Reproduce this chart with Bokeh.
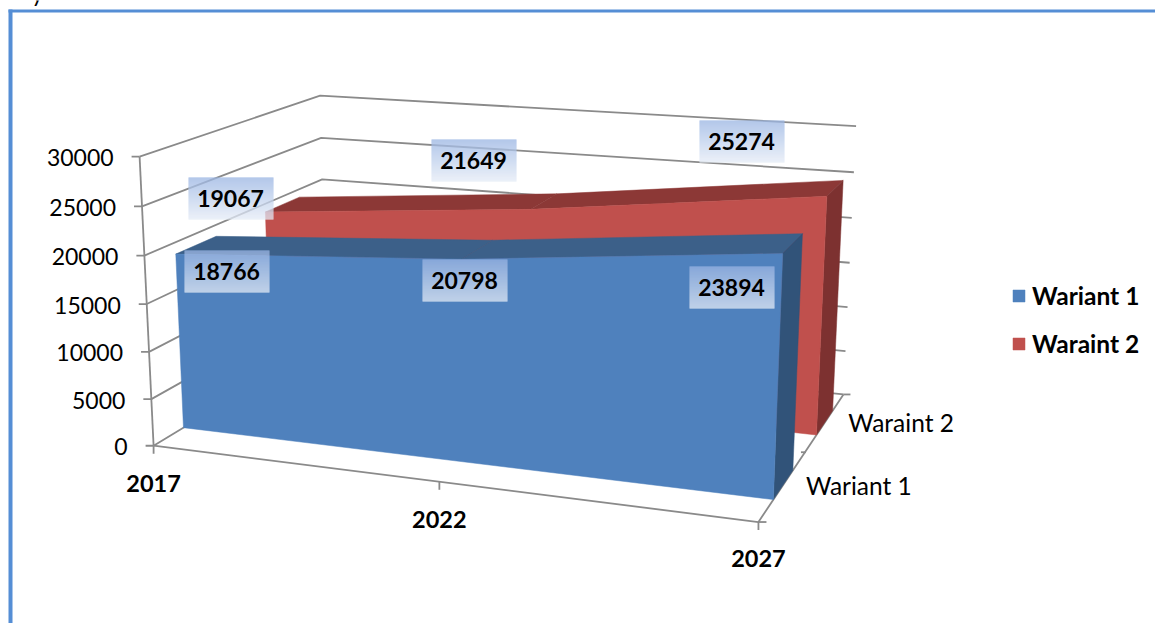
import numpy as np
from bokeh.embed import file_html
from bokeh.models import Legend, LegendItem, Range1d
from bokeh.plotting import figure
from bokeh.resources import INLINE
from bokeh.core.properties import value

# Chart values
years = ["2017", "2022", "2027"]
wariant_1 = [18766, 20798, 23894]
wariant_2 = [19067, 21649, 25274]
series_names = ["Wariant 1", "Waraint 2"]
value_ticks = [0, 5000, 10000, 15000, 20000, 25000, 30000]
VALUE_MAX = 30000

FONT = "Lato"
GREY = "#8a8a8a"
FRAME = "#558ed5"
BLUE = ("#4f81bd", "#3c6089", "#315379")
RED = ("#c0504d", "#8c3836", "#7d3130")
LINE_W = 1.8

# Camera: where corners of the 3D box (year, value, depth; all 0..1) land on the page
CAMERA = [
    ((0, 0, 0), (153, 445)), ((1, 0, 0), (757, 521)), ((0.5, 0, 0), (438, 481)),
    ((0, 1, 0), (139, 156)), ((0, 1, 1), (320, 95)), ((1, 1, 1), (856, 126)),
    ((1, 0, 1), (842, 394)), ((1, 0, 0.5), (807, 452)),
    ((0, 5 / 6, 1), (320, 137)), ((1, 5 / 6, 1), (853, 172)),
    ((0, 2 / 3, 1), (322, 179)), ((1, 2 / 3, 1), (851, 217)),
    ((0, 1 / 6, 0), (151, 399)), ((0, 1 / 3, 0), (149, 352)),
]


def fit_camera(pairs):
    rows = []
    for (X, Y, Z), (x, y) in pairs:
        x, y = x / 1000, y / 1000
        rows.append([X, Y, Z, 1, 0, 0, 0, 0, -x * X, -x * Y, -x * Z, -x])
        rows.append([0, 0, 0, 0, X, Y, Z, 1, -y * X, -y * Y, -y * Z, -y])
    return np.linalg.svd(np.array(rows, float))[2][-1].reshape(3, 4)


M = fit_camera(CAMERA)


def project(t, v, d):
    """Page position of a point given by year position t, value v and depth d."""
    h = M @ np.array([t, v / VALUE_MAX, d, 1.0])
    return float(h[0] / h[2] * 1000), float(h[1] / h[2] * 1000)


def path(points):
    pts = [project(*q) for q in points]
    return [q[0] for q in pts], [q[1] for q in pts]


p = figure(width=1155, height=623, output_backend="svg", toolbar_location=None,
           x_range=Range1d(0, 1155), y_range=Range1d(623, 0),
           x_axis_location=None, y_axis_location=None, min_border=0,
           outline_line_color=None, background_fill_color="white",
           border_fill_color="white")
p.grid.visible = False

# Page frame and the end of the line of text above it
p.quad(left=[8, 8], right=[12, 1155], top=[9, 9], bottom=[623, 12],
       fill_color=FRAME, line_color=None)
p.text(x=[31], y=[-22], text=["y"], text_font=value(FONT), text_font_size="23px",
       text_color="black", text_baseline="top")

# Walls: grid lines along the side wall and the back wall
for v in value_ticks:
    xs, ys = path([(0, v, 0), (0, v, 1), (1, v, 1)])
    p.line(xs, ys, line_color=GREY, line_width=LINE_W)
    x0, y0 = project(0, v, 0)
    p.line([x0 - 8, x0], [y0, y0], line_color=GREY, line_width=LINE_W)

# Value axis, floor edges and their ticks
xs, ys = path([(0, 0, 0), (0, VALUE_MAX, 0)])
p.line(xs, ys, line_color=GREY, line_width=LINE_W)
xs, ys = path([(0, 0, 0), (1, 0, 0), (1, 0, 1)])
p.line(xs, ys, line_color=GREY, line_width=LINE_W)
for t in (0, 0.5, 1):
    x0, y0 = project(t, 0, 0)
    p.line([x0, x0], [y0, y0 + 8], line_color=GREY, line_width=LINE_W)
for d, dx0, dx1 in ((0, 0, 8), (0.5, -4, 1), (1, 0, 7)):
    x0, y0 = project(1, 0, d)
    p.line([x0 + dx0, x0 + dx1], [y0, y0], line_color=GREY, line_width=LINE_W)


def draw_area(values, d0, d1, colours):
    """Ribbon standing on the floor between the depths d0 and d1."""
    front, top, side = colours
    tpos = [0, 0.5, 1]
    for i in range(2):
        xs, ys = path([(tpos[i], values[i], d0), (tpos[i + 1], values[i + 1], d0),
                       (tpos[i + 1], values[i + 1], d1), (tpos[i], values[i], d1)])
        p.patch(xs, ys, fill_color=top, line_color=top, line_width=0.5)
    xs, ys = path([(1, 0, d0), (1, 0, d1), (1, values[2], d1), (1, values[2], d0)])
    p.patch(xs, ys, fill_color=side, line_color=side, line_width=0.5)
    xs, ys = path([(0, 0, d0)] + [(t, v, d0) for t, v in zip(tpos, values)] + [(1, 0, d0)])
    return p.patch(xs, ys, fill_color=front, line_color=front, line_width=0.5)


red_face = draw_area(wariant_2, 0.64, 0.85, RED)
blue_face = draw_area(wariant_1, 0.15, 0.36, BLUE)

# Data labels: gradient box with the value, offset from the ribbon's top edge
BOX_W, BOX_H = 85, 42
GRAD_TOP = np.array([0x9a, 0xb5, 0xe3])
GRAD_BOTTOM = np.array([0xe4, 0xeb, 0xf6])
label_offsets = {
    "red": [(-55, -5), (-73, -40), (-95, -46)],
    "blue": [(28, 27), (-14, 32), (-62, 45)],
}
for vals, d, key in ((wariant_2, 0.76, "red"), (wariant_1, 0.265, "blue")):
    for t, v, (ox, oy) in zip((0, 0.5, 1), vals, label_offsets[key]):
        ax, ay = project(t, v, d)
        cx, cy = round(ax + ox), round(ay + oy)
        tops = np.arange(cy - BOX_H // 2, cy + BOX_H // 2)
        shades = [GRAD_TOP + (GRAD_BOTTOM - GRAD_TOP) * k / (BOX_H - 1) for k in range(BOX_H)]
        cols = ["#%02x%02x%02x" % tuple(int(round(c)) for c in s) for s in shades]
        p.quad(left=cx - BOX_W // 2, right=cx - BOX_W // 2 + BOX_W, top=tops, bottom=tops + 1,
               fill_color=cols, line_color=None)
        p.text(x=[cx], y=[cy], text=[str(v)], text_font=value(FONT), text_font_style="bold",
               text_font_size="23px", text_align="center", text_baseline="middle",
               text_color="black")

# Value axis labels
for v in value_ticks:
    x0, y0 = project(0, v, 0)
    p.text(x=[x0 - 26], y=[y0 + 1], text=[str(v)], text_font=value(FONT),
           text_font_size="23px", text_align="right", text_baseline="middle",
           text_color="black")

# Year labels
for t, yr, oy in zip((0, 0.5, 1), years, (38, 38, 36)):
    x0, y0 = project(t, 0, 0)
    p.text(x=[x0], y=[y0 + oy], text=[yr], text_font=value(FONT), text_font_style="bold",
           text_font_size="23.5px", text_align="center", text_baseline="middle",
           text_color="black")

# Series names along the depth axis
for d, name, (ox, oy) in zip((0.25, 0.75), series_names, ((76, 0), (76, 0))):
    x0, y0 = project(1, 0, d)
    p.text(x=[x0 + ox], y=[y0 + oy], text=[name], text_font=value(FONT),
           text_font_size="24.5px", text_align="center", text_baseline="middle",
           text_color="black")

legend = Legend(
    items=[LegendItem(label=series_names[0], renderers=[blue_face]),
           LegendItem(label=series_names[1], renderers=[red_face])],
    location=(1011, 623 - 358), orientation="vertical", spacing=19, padding=0, margin=0,
    glyph_width=15, glyph_height=15, label_standoff=6,
    label_text_font=FONT, label_text_font_style="bold", label_text_font_size="24.5px",
    label_text_color="black", border_line_color=None, background_fill_alpha=0,
)
p.add_layout(legend, "center")

open("out.html", "w").write(file_html(p, INLINE))
